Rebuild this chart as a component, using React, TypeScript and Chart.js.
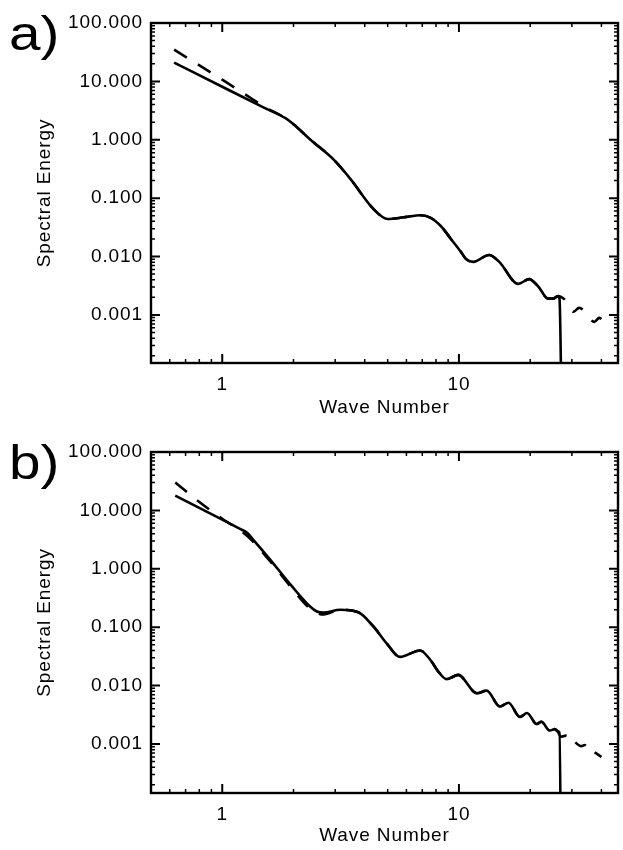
import React, { useEffect, useRef } from 'react';
import { Chart, registerables } from 'chart.js';

Chart.register(...registerables);

// ---------- Panel a) ----------
const aSolidK = [0.626, 1.0, 1.5, 1.85, 2.0, 2.36, 2.95, 3.49, 4.36, 5.0, 5.85, 6.9, 7.6, 8.4, 9.25, 10.2, 10.7, 11.5, 13.4, 14.8, 17.8, 19.8, 21.6, 23.8, 25.0, 26.2, 26.6, 27.4];
const aSolidE = [20.9, 8.1, 3.55, 2.34, 1.84, 1.0, 0.46, 0.21, 0.065, 0.044, 0.047, 0.051, 0.046, 0.033, 0.020, 0.012, 0.0091, 0.0081, 0.0106, 0.0081, 0.0034, 0.0041, 0.0031, 0.0019, 0.0019, 0.0021, 0.0019, 0.000001];

const aDashK = [0.626, 1.0, 1.31, 1.5, 1.85, 2.0, 2.36, 2.95, 3.49, 4.36, 5.0, 5.85, 6.9, 7.6, 8.4, 9.25, 10.2, 10.7, 11.5, 13.4, 14.8, 17.8, 19.8, 21.6, 23.8, 25.0, 26.2, 27.0, 28.1, 30.4, 32.2, 33.9, 37.3, 39.2, 40.7];
const aDashE = [35, 10.7, 5.3, 3.7, 2.34, 1.84, 1.0, 0.46, 0.21, 0.065, 0.044, 0.047, 0.051, 0.046, 0.033, 0.020, 0.012, 0.0091, 0.0081, 0.0106, 0.0081, 0.0034, 0.0041, 0.0031, 0.0019, 0.0019, 0.0021, 0.00203, 0.0018, 0.00113, 0.00132, 0.00117, 0.00076, 0.00089, 0.00079];

// ---------- Panel b) ----------
const bSolidK = [0.633, 1.0, 1.2, 1.27, 1.35, 1.6, 1.94, 2.35, 2.51, 2.68, 3.15, 3.76, 4.35, 4.95, 5.64, 6.85, 7.55, 8.18, 8.87, 9.93, 11.9, 13.1, 14.9, 16.2, 18.1, 19.4, 21.3, 22.3, 24.2, 25.4, 26.2, 26.6, 27.1];
const bSolidE = [17.9, 6.95, 4.74, 4.2, 3.16, 1.41, 0.54, 0.226, 0.186, 0.178, 0.199, 0.18, 0.103, 0.053, 0.031, 0.040, 0.028, 0.0174, 0.0129, 0.0153, 0.0074, 0.0082, 0.0044, 0.0051, 0.0029, 0.0034, 0.0022, 0.0024, 0.0017, 0.0018, 0.00163, 0.0016, 0.000001];

const bDashK = [0.633, 0.8, 1.0, 1.27, 1.6, 1.94, 2.35, 2.68, 3.15, 3.76, 4.35, 4.95, 5.64, 6.85, 7.55, 8.18, 8.87, 9.93, 11.9, 13.1, 14.9, 16.2, 18.1, 19.4, 21.3, 22.3, 24.2, 25.4, 26.2, 26.9, 28.3, 29.9, 32.9, 34.0, 36.3, 40.0];
const bDashE = [30, 13.9, 7.2, 3.7, 1.32, 0.50, 0.21, 0.165, 0.199, 0.18, 0.103, 0.053, 0.031, 0.040, 0.028, 0.0174, 0.0129, 0.0153, 0.0074, 0.0082, 0.0044, 0.0051, 0.0029, 0.0034, 0.0022, 0.0024, 0.0017, 0.0018, 0.00163, 0.00133, 0.00139, 0.00122, 0.00092, 0.00096, 0.00079, 0.0006];

// ---------- Axes ----------
const xTickValues = [1, 10];
const yTickValues = [0.001, 0.01, 0.1, 1, 10, 100];
const xTitle = 'Wave Number';
const yTitle = 'Spectral Energy';

const FONT = "'Liberation Sans', Arial, Helvetica, sans-serif";

function pts(k: number[], e: number[]) {
  return k.map((x, i) => ({ x, y: e[i] }));
}

const frameTicks = {
  id: 'frameTicks',
  beforeDraw(chart: any) {
    (chart.ctx as any).letterSpacing = '0.9px';
  },
  afterDraw(chart: any) {
    const { ctx, chartArea, scales } = chart;
    const { left, right, top, bottom } = chartArea;
    const x = scales.x;
    const y = scales.y;
    ctx.save();
    ctx.strokeStyle = '#000';
    ctx.lineCap = 'butt';
    for (let d = -1; d <= 2; d++) {
      for (let m = 1; m <= 9; m++) {
        const v = m * Math.pow(10, d);
        if (v < x.min * 0.999 || v > x.max * 1.001) continue;
        const px = x.getPixelForValue(v);
        const len = m === 1 ? 9 : 4;
        ctx.lineWidth = m === 1 ? 2 : 1.5;
        ctx.beginPath();
        ctx.moveTo(px, bottom);
        ctx.lineTo(px, bottom - len);
        ctx.moveTo(px, top);
        ctx.lineTo(px, top + len);
        ctx.stroke();
      }
    }
    for (let d = -5; d <= 2; d++) {
      for (let m = 1; m <= 9; m++) {
        const v = m * Math.pow(10, d);
        if (v < y.min * 0.999 || v > y.max * 1.001) continue;
        const py = y.getPixelForValue(v);
        const len = m === 1 ? 9 : 4;
        ctx.lineWidth = m === 1 ? 2 : 1.5;
        ctx.beginPath();
        ctx.moveTo(left, py);
        ctx.lineTo(left + len, py);
        ctx.moveTo(right, py);
        ctx.lineTo(right - len, py);
        ctx.stroke();
      }
    }
    ctx.lineWidth = 2.4;
    ctx.strokeRect(left, top, right - left, bottom - top);
    ctx.restore();
  },
};

interface TailDash {
  from: number;
  dash: number[];
  offset: number;
}

interface PanelProps {
  solid: { x: number; y: number }[];
  dashed: { x: number; y: number }[];
  yMin: number;
  padTop: number;
  xHeight: number;
  xTitlePad: number;
  tail: TailDash;
}

function Panel({ solid, dashed, yMin, padTop, xHeight, xTitlePad, tail }: PanelProps) {
  const ref = useRef<HTMLCanvasElement>(null);
  useEffect(() => {
    if (!ref.current) return;
    const font = { family: FONT, size: 19 };
    const chart = new Chart(ref.current, {
      type: 'line',
      data: {
        datasets: [
          {
            data: solid,
            borderColor: '#000',
            borderWidth: 2.6,
            pointRadius: 0,
            cubicInterpolationMode: 'monotone',
            fill: false,
          },
          {
            data: dashed,
            borderColor: '#000',
            borderWidth: 2.6,
            borderDash: [15, 13],
            pointRadius: 0,
            cubicInterpolationMode: 'monotone',
            fill: false,
            segment: {
              borderDash: (c: any) => (c.p0.parsed.x >= tail.from ? tail.dash : undefined),
              borderDashOffset: (c: any) => (c.p0.parsed.x >= tail.from ? tail.offset : undefined),
            },
          },
        ],
      },
      options: {
        animation: false,
        responsive: false,
        events: [],
        layout: { padding: { left: 0, right: 5, top: padTop, bottom: 0 } },
        plugins: { legend: { display: false }, tooltip: { enabled: false } },
        scales: {
          x: {
            type: 'logarithmic',
            min: 0.5,
            max: 47,
            grid: { display: false, drawTicks: false },
            border: { display: false },
            afterBuildTicks: (s: any) => {
              s.ticks = xTickValues.map((v) => ({ value: v }));
            },
            afterFit: (s: any) => {
              s.height = xHeight;
            },
            ticks: {
              autoSkip: false,
              maxRotation: 0,
              color: '#000',
              padding: 10,
              font,
              callback: (v: any) => String(v),
            },
            title: {
              display: true,
              text: xTitle,
              color: '#000',
              font,
              padding: { top: 0, bottom: xTitlePad },
            },
          },
          y: {
            type: 'logarithmic',
            min: yMin,
            max: 100,
            grid: { display: false, drawTicks: false },
            border: { display: false },
            afterBuildTicks: (s: any) => {
              s.ticks = yTickValues.map((v) => ({ value: v }));
            },
            afterFit: (s: any) => {
              s.width = 151;
            },
            ticks: {
              autoSkip: false,
              color: '#000',
              padding: 8,
              font,
              callback: (v: any) => Number(v).toFixed(3),
            },
            title: {
              display: true,
              text: yTitle,
              color: '#000',
              font,
              padding: { top: 33, bottom: 0 },
            },
          },
        },
      } as any,
      plugins: [frameTicks],
    });
    return () => chart.destroy();
  }, []);
  return <canvas ref={ref} width={623} height={425} style={{ display: 'block', width: 623, height: 425 }} />;
}

const letterStyle: React.CSSProperties = {
  position: 'absolute',
  left: 9,
  fontFamily: FONT,
  fontSize: 48,
  lineHeight: '48px',
  color: '#000',
  transform: 'scaleX(1.18)',
  transformOrigin: 'left top',
  whiteSpace: 'nowrap',
};

export default function App() {
  return (
    <div style={{ position: 'absolute', left: 0, top: 0, width: 623, height: 850, background: '#fff' }}>
      <Panel
        solid={pts(aSolidK, aSolidE)}
        dashed={pts(aDashK, aDashE)}
        yMin={0.00015}
        padTop={23}
        xHeight={62}
        xTitlePad={6}
        tail={{ from: 26.2, dash: [12, 14], offset: 4 }}
      />
      <Panel
        solid={pts(bSolidK, bSolidE)}
        dashed={pts(bDashK, bDashE)}
        yMin={0.000145}
        padTop={27}
        xHeight={57}
        xTitlePad={3}
        tail={{ from: 26.2, dash: [12, 11], offset: 0 }}
      />
      <div style={{ ...letterStyle, top: 10 }}>a)</div>
      <div style={{ ...letterStyle, top: 439 }}>b)</div>
    </div>
  );
}
